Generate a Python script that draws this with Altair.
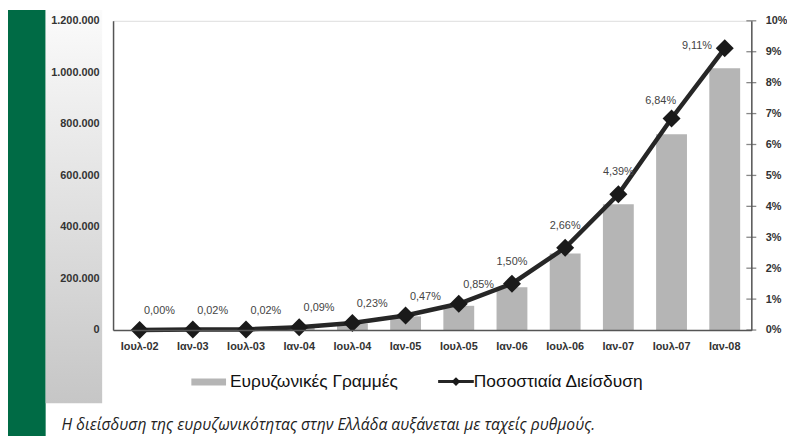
import altair as alt
import pandas as pd

periods = ["Ιουλ-02", "Ιαν-03", "Ιουλ-03", "Ιαν-04", "Ιουλ-04", "Ιαν-05",
           "Ιουλ-05", "Ιαν-06", "Ιουλ-06", "Ιαν-07", "Ιουλ-07", "Ιαν-08"]
lines = [0, 2000, 3000, 10000, 25000, 53000, 94000, 166000, 297000, 488000, 760000, 1016000]
penetration = [0.0, 0.0002, 0.0002, 0.0009, 0.0023, 0.0047, 0.0085, 0.0150,
               0.0266, 0.0439, 0.0684, 0.0911]
left_ticks = [0, 200000, 400000, 600000, 800000, 1000000, 1200000]
right_ticks = [0.0, 0.01, 0.02, 0.03, 0.04, 0.05, 0.06, 0.07, 0.08, 0.09, 0.10]
legend_labels = ["Ευρυζωνικές Γραμμές", "Ποσοστιαία Διείσδυση"]
caption = "Η διείσδυση της ευρυζωνικότητας στην Ελλάδα αυξάνεται με ταχείς ρυθμούς."

df = pd.DataFrame({"period": periods, "lines": lines, "pct": penetration,
                   "i": list(range(len(periods)))})

W, H = 644, 312
AX = dict(labelFont="Liberation Sans", labelFontWeight="bold", labelFontSize=11,
          labelColor="#333333", domainColor="#555555", domainWidth=1.5,
          grid=False, title=None, zindex=1)

x_enc = alt.X("period:N", sort=periods,
              scale=alt.Scale(paddingInner=0.42, paddingOuter=0.21),
              axis=alt.Axis(labelAngle=0, ticks=False, labelPadding=11, **AX))

y_bar = alt.Y("lines:Q", scale=alt.Scale(domain=[0, 1200000], nice=False),
              axis=alt.Axis(orient="left", values=left_ticks, format=",d",
                            ticks=False, labelPadding=14, **AX))
y_pct = alt.Y("pct:Q", scale=alt.Scale(domain=[0, 0.1], nice=False),
              axis=alt.Axis(orient="right", values=right_ticks, format=".0%",
                            ticks=False, labelPadding=14, **AX))

base = alt.Chart(df)

bars = base.mark_bar(color="#b5b5b5").encode(x=x_enc, y=y_bar)

line = base.mark_line(color="#262626", strokeWidth=4.5).encode(x=x_enc, y=y_pct)
pts = base.mark_point(shape="diamond", filled=True, size=330, color="#1a1a1a",
                      opacity=1).encode(x=x_enc, y=y_pct)

label_groups = [((0, 6), 20, -19), ((7, 9), 0, -22), ((10, 10), -11, -18), ((11, 11), -28, -2)]
label_layers = []
for (lo, hi), dx, dy in label_groups:
    label_layers.append(
        base.transform_filter(f"datum.i >= {lo} && datum.i <= {hi}")
        .mark_text(font="Liberation Sans", fontSize=11, color="#444444",
                   dx=dx, dy=dy, baseline="middle")
        .encode(x=x_enc, y=y_pct, text=alt.Text("pct:Q", format=".2%"))
    )

rticks = alt.Chart(pd.DataFrame({"pct": right_ticks})).mark_tick(
    orient="horizontal", size=10, thickness=1.3, color="#555555"
).encode(x=alt.value(W), y=y_pct)

pct_layer = alt.layer(line, pts, *label_layers, rticks)

one = pd.DataFrame({"k": [0]})
green = alt.Chart(one).mark_rect(color="#006b45").encode(
    x=alt.value(-106), x2=alt.value(-68), y=alt.value(-11), y2=alt.value(430))
grad = alt.Chart(one).mark_rect(
    color=alt.LinearGradient(gradient="linear", x1=0, x2=0, y1=0, y2=1,
                             stops=[alt.GradientStop(color="#fbfbfb", offset=0),
                                    alt.GradientStop(color="#c6c6c6", offset=1)])
).encode(x=alt.value(-68), x2=alt.value(-11), y=alt.value(-11), y2=alt.value(386))

leg1_sw = alt.Chart(one).mark_rect(color="#b5b5b5").encode(
    x=alt.value(79), x2=alt.value(114), y=alt.value(361), y2=alt.value(368))
leg1_tx = alt.Chart(pd.DataFrame({"t": [legend_labels[0]]})).mark_text(
    font="Liberation Sans", fontSize=17.5, color="#111111", align="left", baseline="middle"
).encode(x=alt.value(118), y=alt.value(364), text="t:N")
leg2_ln = alt.Chart(one).mark_rule(color="#262626", strokeWidth=3).encode(
    x=alt.value(328), x2=alt.value(364), y=alt.value(364))
leg2_pt = alt.Chart(one).mark_point(shape="diamond", filled=True, size=80,
                                    color="#1a1a1a", opacity=1).encode(
    x=alt.value(346), y=alt.value(364))
leg2_tx = alt.Chart(pd.DataFrame({"t": [legend_labels[1]]})).mark_text(
    font="Liberation Sans", fontSize=17.5, color="#111111", align="left", baseline="middle"
).encode(x=alt.value(364), y=alt.value(364), text="t:N")
cap = alt.Chart(pd.DataFrame({"t": [caption]})).mark_text(
    font="Open Sans", fontStyle="italic", fontSize=15.8, color="#222222",
    align="left", baseline="alphabetic"
).encode(x=alt.value(-52), y=alt.value(413), text="t:N")

chart = alt.layer(
    green, grad, bars, pct_layer, leg1_sw, leg1_tx, leg2_ln, leg2_pt, leg2_tx, cap
).resolve_scale(y="independent").properties(
    width=W, height=H,
    padding={"left": 106, "top": 11, "right": 36, "bottom": 105},
    autosize=alt.AutoSizeParams(type="none"),
    background="white",
).configure_view(stroke=None).configure(
    locale={"number": {"decimal": ",", "thousands": ".", "grouping": [3],
                       "currency": ["", "\u20ac"]}}
)

chart.save("out.html", embed_options={"renderer": "svg", "actions": False})
